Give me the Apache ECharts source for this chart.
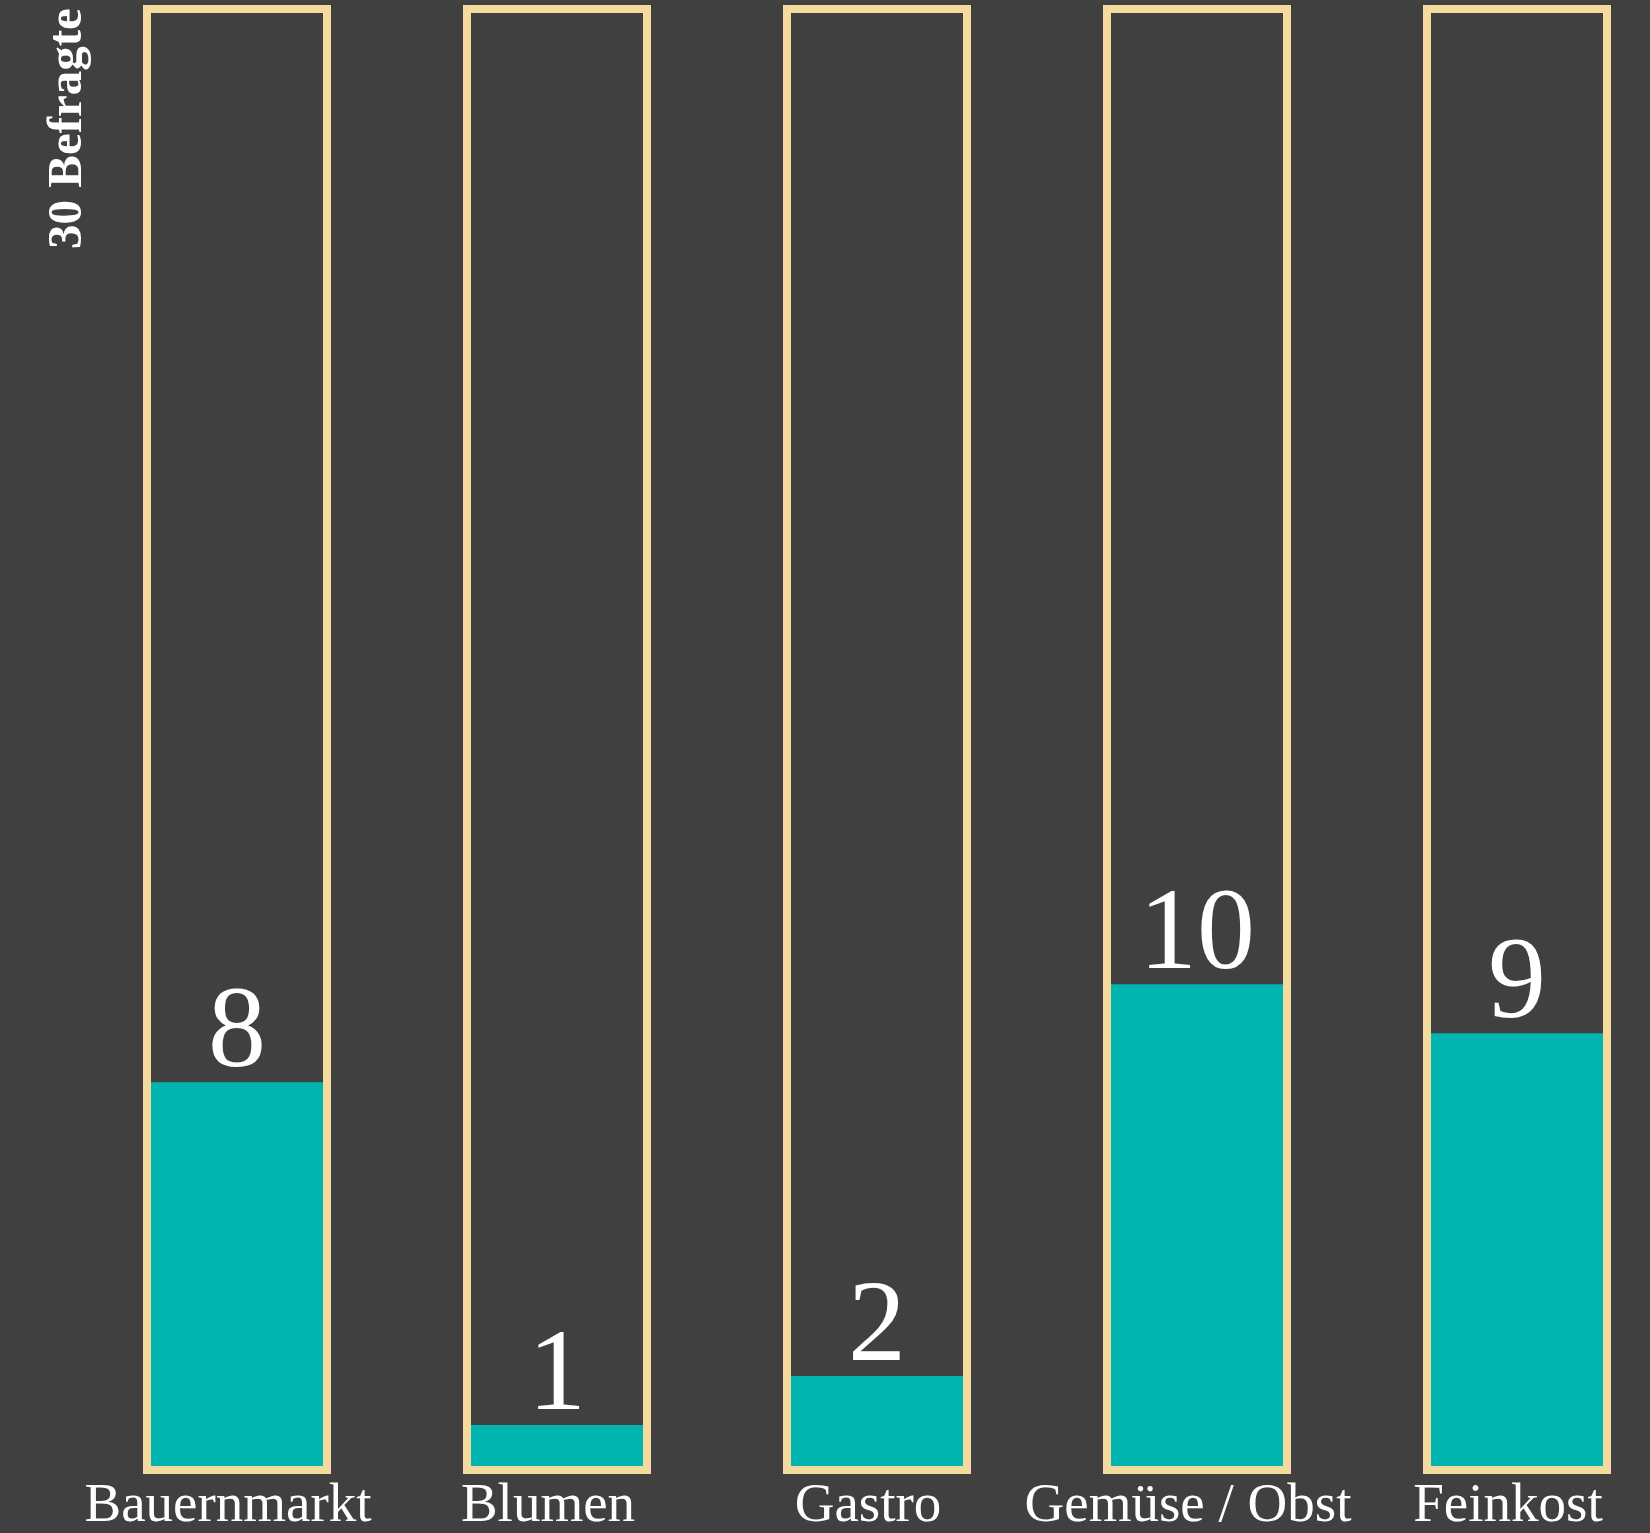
<!DOCTYPE html>
<html>
<head>
<meta charset="utf-8">
<script src="https://cdn.jsdelivr.net/npm/echarts@6/dist/echarts.min.js"></script>
<style>
html,body{margin:0;padding:0;background:#404040;}
#chart{width:1650px;height:1533px;}
</style>
</head>
<body>
<div id="chart"></div>
<script>
// Anzahl der Befragten je Branche
var categories = ['Bauernmarkt', 'Blumen', 'Gastro', 'Gemüse / Obst', 'Feinkost'];
var values = [8, 1, 2, 10, 9];
var total = 30;   //!< Gesamtzahl Befragte = Höhe der Rahmen
var totalLabel = total + ' Befragte';

var frameData = [];
for (var i = 0; i < categories.length; ++i) frameData.push(total);

var chart = echarts.init(document.getElementById('chart'));

var serif = '"Liberation Serif", "DejaVu Serif", serif';

var option = {
	backgroundColor: '#404040',
	animation: false,
	grid: {left: 77, width: 1600, top: 5, bottom: 59, outerBoundsMode: 'none', containLabel: false},
	xAxis: [{
		type: 'category',
		data: categories,
		axisLine: {show: false},
		axisTick: {show: false},
		axisLabel: {
			interval: 0,
			color: '#ffffff',
			fontFamily: serif,
			fontSize: 55,
			margin: 5,
			padding: [0, 18, 0, 0]
		}
	}, {
		// zweite Achse nur für die Rahmen, damit beide Balken zentriert liegen
		type: 'category',
		data: categories,
		show: false,
		gridIndex: 0
	}],
	yAxis: {
		type: 'value',
		min: 0,
		max: total,
		show: false,
		splitLine: {show: false}
	},
	series: [{
		name: 'Befragte',
		type: 'bar',
		xAxisIndex: 0,
		barWidth: 172,
		data: values,
		z: 2,
		itemStyle: {color: '#00b5b0'},
		label: {
			show: true,
			position: 'top',
			distance: -11,
			color: '#ffffff',
			fontFamily: serif,
			fontSize: 116
		}
	}, {
		// Rahmen: Rand liegt innerhalb der Balkenbreite
		name: 'Rahmen',
		type: 'bar',
		xAxisIndex: 1,
		barWidth: 188,
		data: frameData,
		z: 3,
		silent: true,
		itemStyle: {
			color: 'rgba(0,0,0,0)',
			borderColor: '#f4da9c',
			borderWidth: 8
		}
	}],
	graphic: [{
		type: 'text',
		x: 68,
		y: 249,
		rotation: Math.PI / 2,
		style: {
			text: totalLabel,
			fill: '#ffffff',
			font: 'bold 49px ' + serif,
			textAlign: 'left',
			textVerticalAlign: 'middle'
		}
	}]
};
chart.setOption(option);
</script>
</body>
</html>
